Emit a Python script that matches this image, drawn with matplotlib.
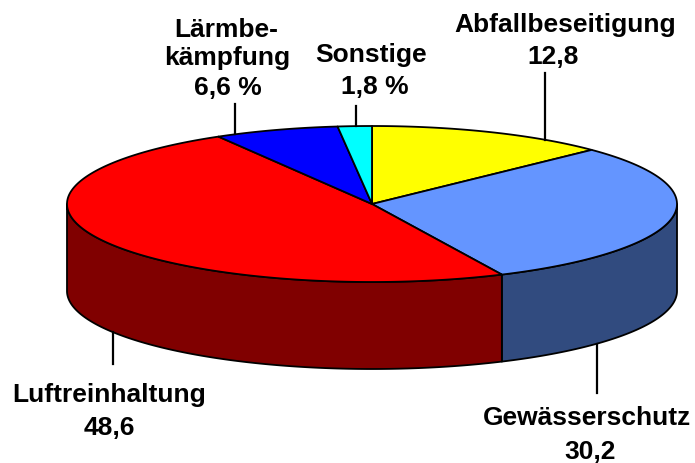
import numpy as np
import matplotlib
matplotlib.use("Agg")
import matplotlib.pyplot as plt
from matplotlib.patches import Polygon

# Shares of environmental protection spending (percent)
categories = ["Abfallbeseitigung", "Gewässerschutz", "Luftreinhaltung", "Lärmbe-\nkämpfung", "Sonstige"]
values = [12.8, 30.2, 48.6, 6.6, 1.8]
value_suffix = ["", "", "", " %", " %"]
top_colors = ["#FFFF00", "#6495FF", "#FF0000", "#0000FF", "#00FFFF"]
side_colors = ["#808000", "#314B7F", "#800000", "#000080", "#008080"]

W, H = 695, 463
CX, CY, RX = 372, 204, 305          # pixel centre and horizontal radius of the top face
RY = 78 / RX                        # vertical squash of the ellipse (in units of RX)
DEPTH = 87 / RX                     # thickness of the disc


def ux(x):
    return (x - CX) / RX


def uy(y):
    return (CY - y) / RX


fig = plt.figure(figsize=(W / 100, H / 100), dpi=100)
ax = fig.add_axes([0, 0, 1, 1])
ax.set_xlim(ux(0), ux(W))
ax.set_ylim(uy(H), uy(0))
ax.axis("off")

total = sum(values)
spans = [v / total * 360.0 for v in values]
starts = 90.0 - np.concatenate([[0], np.cumsum(spans)[:-1]])
edge_kw = dict(edgecolor="black", linewidth=1.3, joinstyle="round")

# Visible side walls (front half of the disc: 180..360 degrees)
for s, sp, sc in zip(starts, spans, side_colors):
    t1, t2 = s - sp, s
    for k in (-360, 0, 360):
        a, b = max(t1 + k, 180.0), min(t2 + k, 360.0)
        if b <= a:
            continue
        t = np.radians(np.linspace(a, b, 200))
        xs, ys = np.cos(t), RY * np.sin(t)
        pts = np.concatenate([np.column_stack([xs, ys]),
                              np.column_stack([xs[::-1], ys[::-1] - DEPTH])])
        ax.add_patch(Polygon(pts, closed=True, facecolor=sc, zorder=1, **edge_kw))

# Top faces
for s, sp, tc in zip(starts, spans, top_colors):
    t = np.radians(np.linspace(s - sp, s, 300))
    pts = np.vstack([[0, 0], np.column_stack([np.cos(t), RY * np.sin(t)])])
    ax.add_patch(Polygon(pts, closed=True, facecolor=tc, zorder=2, **edge_kw))


def rim_y(xp, front):
    u = ux(xp)
    h = RY * np.sqrt(max(0.0, 1 - u * u))
    return -h - DEPTH if front else h


# Leader lines: (x pixel, end y pixel, on front rim?)
leaders = [(545, 73, False), (597, 393, True), (113, 364, True), (235, 104, False), (356, 106, False)]
for xp, yend, front in leaders:
    ax.plot([ux(xp), ux(xp)], [rim_y(xp, front), uy(yend)], color="black", lw=1.6, zorder=3)

font = dict(family=["Liberation Sans", "DejaVu Sans"], fontweight="bold", fontsize=19,
            ha="center", va="center", color="black")

# Label positions (pixel centres of each text line)
label_pos = [
    [(565, 25), (553, 57)],
    [(587, 418), (590, 452)],
    [(109, 395), (109, 428)],
    [(226, 30), (227, 58), (228, 88)],
    [(371, 55), (375, 87)],
]
for cat, v, suf, pos in zip(categories, values, value_suffix, label_pos):
    lines = cat.split("\n") + [f"{v:.1f}".replace(".", ",") + suf]
    for txt, (px, py) in zip(lines, pos):
        ax.text(ux(px), uy(py), txt, **font)

fig.savefig("out.png", dpi=100)
